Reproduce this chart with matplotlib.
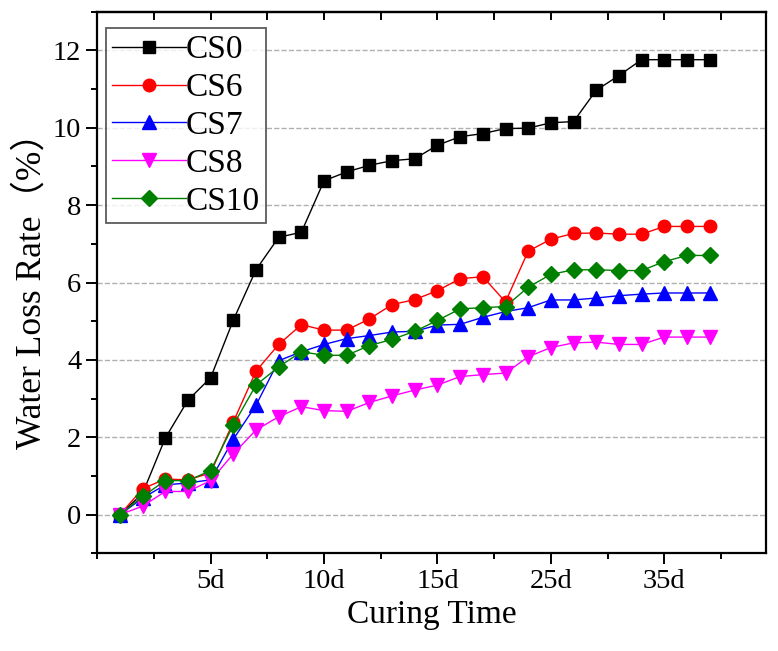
import matplotlib
matplotlib.use("Agg")
import matplotlib.pyplot as plt
from matplotlib.ticker import MultipleLocator

plt.rcParams['font.family'] = ['Liberation Serif', 'Noto Sans CJK SC', 'DejaVu Sans']

# curing time index (1..27), tick labels at 5,10,15,20,25
x = list(range(1, 28))
tick_pos = [5, 10, 15, 20, 25]
tick_labels = ["5d", "10d", "15d", "25d", "35d"]

cs0 = [0.0, 0.55, 1.98, 2.96, 3.54, 5.03, 6.33, 7.17, 7.30, 8.63, 8.86, 9.03, 9.15, 9.20,
       9.55, 9.77, 9.85, 9.98, 9.99, 10.13, 10.16, 10.97, 11.35, 11.76, 11.76, 11.76, 11.76]
cs6 = [0.0, 0.67, 0.92, 0.90, 1.08, 2.40, 3.71, 4.40, 4.91, 4.77, 4.77, 5.06, 5.43, 5.56,
       5.79, 6.10, 6.15, 5.50, 6.81, 7.12, 7.27, 7.28, 7.25, 7.25, 7.45, 7.45, 7.45]
cs7 = [0.0, 0.43, 0.77, 0.82, 0.90, 1.95, 2.83, 3.98, 4.21, 4.40, 4.55, 4.63, 4.72, 4.74,
       4.90, 4.92, 5.10, 5.25, 5.35, 5.55, 5.55, 5.60, 5.66, 5.70, 5.73, 5.73, 5.73]
cs8 = [0.0, 0.22, 0.60, 0.60, 0.88, 1.57, 2.19, 2.53, 2.79, 2.69, 2.67, 2.90, 3.07, 3.22,
       3.35, 3.57, 3.62, 3.66, 4.08, 4.32, 4.44, 4.46, 4.40, 4.40, 4.59, 4.59, 4.59]
cs10 = [0.0, 0.47, 0.88, 0.88, 1.14, 2.32, 3.35, 3.82, 4.21, 4.12, 4.12, 4.37, 4.53, 4.74,
        5.02, 5.32, 5.35, 5.38, 5.88, 6.21, 6.33, 6.33, 6.31, 6.31, 6.54, 6.70, 6.70]

fig = plt.figure(figsize=(7.78, 6.51), dpi=100)
ax = fig.add_axes([0.125, 0.150, 0.860, 0.832])

ax.plot(x, cs0, color='black', marker='s', ms=8.5, lw=1, label='CS0')
ax.plot(x, cs6, color='red', marker='o', ms=9, lw=1, label='CS6')
ax.plot(x, cs7, color='blue', marker='^', ms=9.5, lw=1, label='CS7')
ax.plot(x, cs8, color='magenta', marker='v', ms=9.5, lw=1, label='CS8')
ax.plot(x, cs10, color='green', marker='D', ms=8, lw=1, label='CS10')

ax.set_xlim(0, 29.5)
ax.set_ylim(-1, 13)
ax.set_xticks(tick_pos)
ax.set_xticklabels(tick_labels)
ax.xaxis.set_minor_locator(MultipleLocator(2.5))
ax.yaxis.set_major_locator(MultipleLocator(2))
ax.yaxis.set_minor_locator(MultipleLocator(1))

ax.grid(True, axis='y', which='major', color='#b0b0b0', ls='--', lw=1)
ax.set_axisbelow(True)

ax.tick_params(axis='both', which='major', direction='out', length=8, width=1.4, labelsize=20.5)
ax.tick_params(axis='both', which='minor', direction='out', length=4.5, width=1.4)
for sp in ax.spines.values():
    sp.set_linewidth(1.6)

# top axis: inward ticks, no labels
top = ax.secondary_xaxis('top')
top.set_xticks(tick_pos)
top.xaxis.set_minor_locator(MultipleLocator(2.5))
top.tick_params(which='both', direction='in', length=6, width=1.4, labeltop=False)
top.spines['top'].set_linewidth(1.6)

ax.set_xlabel('Curing Time', fontsize=24, labelpad=4)
ax.set_ylabel('Water Loss Rate（%）', fontsize=25.5, labelpad=3)

leg = ax.legend(loc='upper left', fontsize=24, handlelength=2.2, handletextpad=0.0,
                borderaxespad=0.25, labelspacing=0.22, fancybox=False, borderpad=0.2,
                bbox_to_anchor=(0.0, 0.985))
leg.get_frame().set_edgecolor('#333333')
leg.get_frame().set_linewidth(1.3)

fig.savefig('out.png', dpi=100)
